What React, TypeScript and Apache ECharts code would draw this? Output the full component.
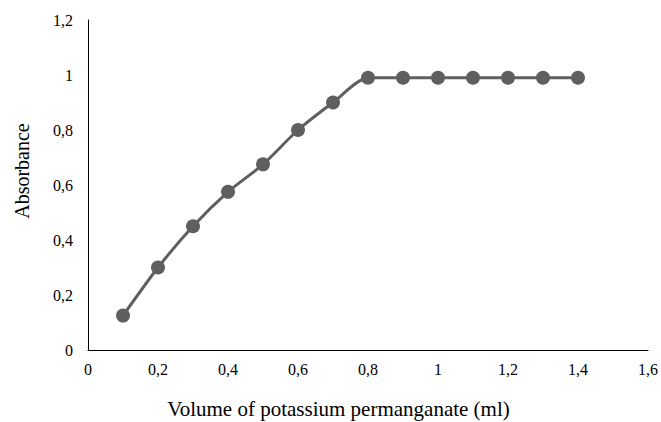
import React, { useEffect, useRef } from "react";
import * as echarts from "echarts";

const volumes = [0.1, 0.2, 0.3, 0.4, 0.5, 0.6, 0.7, 0.8, 0.9, 1.0, 1.1, 1.2, 1.3, 1.4];
const absorbance = [0.125, 0.3, 0.45, 0.575, 0.675, 0.8, 0.9, 0.99, 0.99, 0.99, 0.99, 0.99, 0.99, 0.99];
const xTitle = "Volume of potassium permanganate (ml)";
const yTitle = "Absorbance";

const fmt = (v: number) => String(Math.round(v * 10) / 10).replace(".", ",");

export default function App() {
  const ref = useRef<HTMLDivElement>(null);
  useEffect(() => {
    if (!ref.current) return;
    const chart = echarts.init(ref.current, null, { renderer: "svg" });
    const font = "'Liberation Serif', 'Times New Roman', serif";
    chart.setOption({
      animation: false,
      backgroundColor: "#ffffff",
      grid: { left: 88, right: 8, top: 20, bottom: 72 },
      xAxis: {
        type: "value",
        min: 0,
        max: 1.6,
        interval: 0.2,
        axisLine: { lineStyle: { color: "#000", width: 1 } },
        axisTick: { show: false },
        splitLine: { show: false },
        axisLabel: { formatter: fmt, color: "#000", fontFamily: font, fontSize: 16, margin: 11 },
      },
      yAxis: {
        type: "value",
        min: 0,
        max: 1.2,
        interval: 0.2,
        axisLine: { show: true, lineStyle: { color: "#000", width: 1 } },
        axisTick: { show: false },
        splitLine: { show: false },
        axisLabel: { formatter: fmt, color: "#000", fontFamily: font, fontSize: 16, margin: 15 },
      },
      graphic: [
        {
          type: "text",
          x: 338.5,
          y: 409,
          style: { text: xTitle, fill: "#000", font: `21px ${font}`, align: "center", verticalAlign: "middle" },
        },
        {
          type: "text",
          x: 22,
          y: 171,
          rotation: Math.PI / 2,
          style: { text: yTitle, fill: "#000", font: `20px ${font}`, align: "center", verticalAlign: "middle" },
        },
      ],
      series: [
        {
          type: "line",
          data: volumes.map((v, i) => [v, absorbance[i]]),
          smooth: 0.25,
          symbol: "circle",
          symbolSize: 14,
          lineStyle: { color: "#5f5f5f", width: 3 },
          itemStyle: { color: "#5f5f5f" },
        },
      ],
    });
    return () => chart.dispose();
  }, []);
  return <div ref={ref} style={{ width: 661, height: 422, position: "absolute", left: 0, top: 0 }} />;
}
